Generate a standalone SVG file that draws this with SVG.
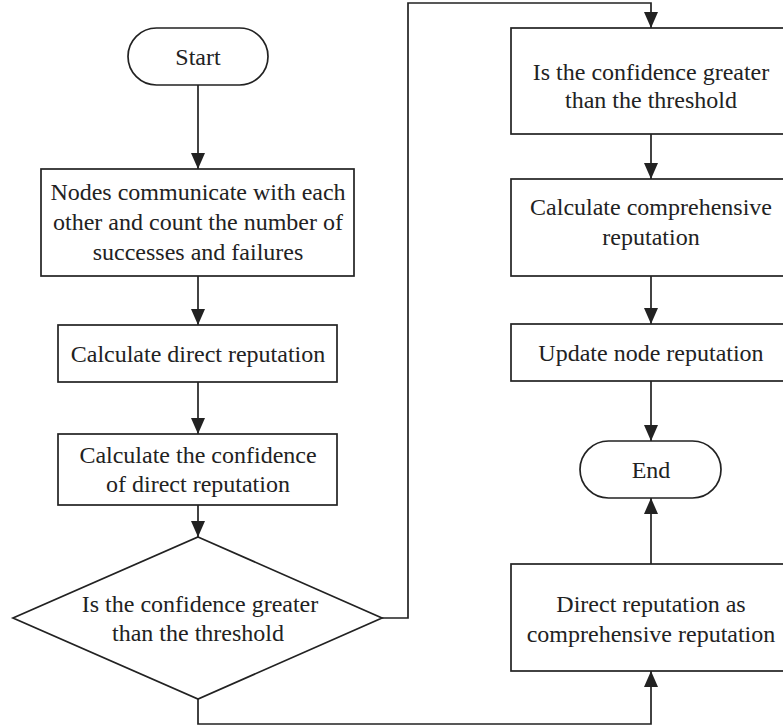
<svg xmlns="http://www.w3.org/2000/svg" width="783" height="727" viewBox="0 0 783 727">
<style>
.shape{fill:#fff;stroke:#222;stroke-width:1.7}
.conn{fill:none;stroke:#222;stroke-width:1.7}
.t{font-family:'Liberation Serif','Times New Roman',Times,serif;font-size:24px;fill:#222;text-anchor:middle}
</style>
<defs>
<marker id="arr" viewBox="0 0 16 14" refX="16" refY="7" markerWidth="16" markerHeight="14" markerUnits="userSpaceOnUse" orient="auto">
<path d="M0,0 L16,7 L0,14 Z" fill="#222"/>
</marker>
</defs>
<rect width="783" height="727" fill="#fff"/>
<g id="connectors">
<line class="conn" x1="198" y1="85" x2="198" y2="169" marker-end="url(#arr)"/>
<line class="conn" x1="198" y1="276" x2="198" y2="325" marker-end="url(#arr)"/>
<line class="conn" x1="198" y1="382" x2="198" y2="434" marker-end="url(#arr)"/>
<line class="conn" x1="198" y1="505" x2="198" y2="537" marker-end="url(#arr)"/>
<polyline class="conn" points="382,618 408,618 408,3 651,3 651,28" marker-end="url(#arr)"/>
<line class="conn" x1="651" y1="134" x2="651" y2="179" marker-end="url(#arr)"/>
<line class="conn" x1="651" y1="276" x2="651" y2="324" marker-end="url(#arr)"/>
<line class="conn" x1="651" y1="381" x2="651" y2="441" marker-end="url(#arr)"/>
<polyline class="conn" points="198,699 198,724 651,724 651,671" marker-end="url(#arr)"/>
<line class="conn" x1="651" y1="564" x2="651" y2="498" marker-end="url(#arr)"/>
</g>
<g id="start">
<rect class="shape" x="128" y="28" width="140" height="57" rx="28.5"/>
<text class="t" x="198" y="65">Start</text>
</g>
<g id="communicate">
<rect class="shape" x="41" y="169" width="313" height="107"/>
<text class="t" x="198" y="200">Nodes communicate with each</text>
<text class="t" x="198" y="230">other and count the number of</text>
<text class="t" x="198" y="260">successes and failures</text>
</g>
<g id="direct">
<rect class="shape" x="58" y="325" width="279" height="57"/>
<text class="t" x="198" y="362">Calculate direct reputation</text>
</g>
<g id="confidence">
<rect class="shape" x="58" y="434" width="279" height="71"/>
<text class="t" x="198" y="463">Calculate the confidence</text>
<text class="t" x="198" y="492">of direct reputation</text>
</g>
<g id="decision">
<polygon class="shape" points="198,537 382,618 198,699 13,618"/>
<text class="t" x="200" y="612">Is the confidence greater</text>
<text class="t" x="198" y="641">than the threshold</text>
</g>
<g id="check">
<rect class="shape" x="511" y="28" width="285" height="106"/>
<text class="t" x="651" y="80">Is the confidence greater</text>
<text class="t" x="651" y="108">than the threshold</text>
</g>
<g id="comprehensive">
<rect class="shape" x="511" y="179" width="285" height="97"/>
<text class="t" x="651" y="215">Calculate comprehensive</text>
<text class="t" x="651" y="245">reputation</text>
</g>
<g id="update">
<rect class="shape" x="511" y="324" width="285" height="57"/>
<text class="t" x="651" y="361">Update node reputation</text>
</g>
<g id="end">
<rect class="shape" x="580" y="441" width="141" height="57" rx="28.5"/>
<text class="t" x="651" y="478">End</text>
</g>
<g id="fallback">
<rect class="shape" x="511" y="564" width="285" height="107"/>
<text class="t" x="651" y="612">Direct reputation as</text>
<text class="t" x="651" y="642">comprehensive reputation</text>
</g>
</svg>
